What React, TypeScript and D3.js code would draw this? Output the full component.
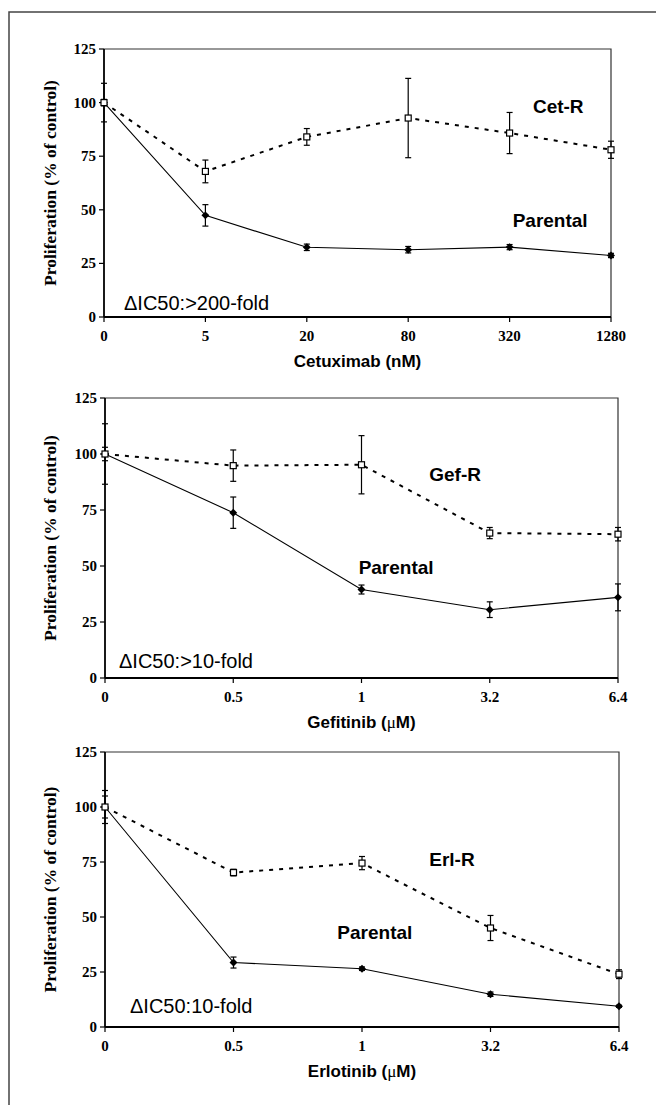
import React from 'react';
import * as d3 from 'd3';

// panel 1: cetuximab
const cetDoses = ['0', '5', '20', '80', '320', '1280'];
const cetR = [100, 67.9, 84, 92.8, 85.8, 78];
const cetRErr = [9, 5.3, 3.9, 18.5, 9.6, 4];
const cetPar = [100, 47.4, 32.5, 31.4, 32.6, 28.7];
const cetParErr = [1.5, 5, 1.5, 1.5, 1.2, 1];

// panel 2: gefitinib
const gefDoses = ['0', '0.5', '1', '3.2', '6.4'];
const gefR = [100, 94.8, 95.2, 64.7, 64.2];
const gefRErr = [13.5, 7, 13, 2.5, 3];
const gefPar = [100, 73.8, 39.5, 30.5, 36];
const gefParErr = [3, 7, 2, 3.5, 6];

// panel 3: erlotinib
const erlDoses = ['0', '0.5', '1', '3.2', '6.4'];
const erlR = [100, 70.2, 74.5, 45, 24];
const erlRErr = [7.5, 1.5, 3, 5.7, 2];
const erlPar = [100, 29.3, 26.5, 14.9, 9.4];
const erlParErr = [5, 2.5, 0.8, 1, 0.5];

const yTicks = [0, 25, 50, 75, 100, 125];

const serif = '"Liberation Serif", "Times New Roman", serif';
const sans = '"Liberation Sans", Arial, sans-serif';

type PanelProps = {
  left: number; right: number; top: number; bottom: number;
  doses: string[];
  res: number[]; resErr: number[];
  par: number[]; parErr: number[];
  xTitle: React.ReactNode;
  resName: string;
  resLabel: [number, number];
  parLabel: [number, number];
  foldText: string;
  foldX: number;
  foldY: number;
};

const Panel = (p: PanelProps) => {
  const x = d3.scalePoint<number>().domain(d3.range(p.doses.length)).range([p.left, p.right]);
  const xi = d3.scaleLinear().domain([0, p.doses.length - 1]).range([p.left, p.right]);
  const y = d3.scaleLinear().domain([0, 125]).range([p.bottom, p.top]);

  const line = d3.line<number>().x((d, i) => x(i) as number).y((d) => y(d));

  const errBars = (vals: number[], errs: number[], key: string) =>
    vals.map((v, i) => {
      const cx = x(i) as number;
      return (
        <g key={key + i} stroke="#000" strokeWidth={1.2}>
          <line x1={cx} x2={cx} y1={y(v + errs[i])} y2={y(v - errs[i])} />
          <line x1={cx - 3} x2={cx + 3} y1={y(v + errs[i])} y2={y(v + errs[i])} />
          <line x1={cx - 3} x2={cx + 3} y1={y(v - errs[i])} y2={y(v - errs[i])} />
        </g>
      );
    });

  return (
    <g>
      {/* frame top/right */}
      <path d={`M${p.left},${p.top}H${p.right}V${p.bottom}`} fill="none" stroke="#333" strokeWidth={1.2} />

      {/* y axis */}
      <line x1={p.left} x2={p.left} y1={p.top} y2={p.bottom} stroke="#000" strokeWidth={1.8} />
      {yTicks.map((t) => (
        <g key={'y' + t}>
          <line x1={p.left - 5} x2={p.left} y1={y(t)} y2={y(t)} stroke="#000" strokeWidth={1.2} />
          <text x={p.left - 8} y={y(t) + 5} textAnchor="end" fontFamily={serif} fontWeight="bold" fontSize={15}>{t}</text>
        </g>
      ))}

      {/* x axis */}
      <line x1={p.left} x2={p.right} y1={p.bottom} y2={p.bottom} stroke="#000" strokeWidth={2} />
      {p.doses.map((d, i) => (
        <g key={'x' + d}>
          <line x1={x(i)} x2={x(i)} y1={p.bottom} y2={p.bottom + 5} stroke="#000" strokeWidth={1.2} />
          <text x={x(i)} y={p.bottom + 24} textAnchor="middle" fontFamily={serif} fontWeight="bold" fontSize={15}>{d}</text>
        </g>
      ))}

      <text
        transform={`translate(52,${(p.top + p.bottom) / 2}) rotate(-90)`}
        textAnchor="middle"
        dominantBaseline="middle"
        fontFamily={serif}
        fontWeight="bold"
        fontSize={17.5}
      >
        Proliferation (% of control)
      </text>
      <text x={(p.left + p.right) / 2} y={p.bottom + 50} textAnchor="middle" fontFamily={sans} fontWeight="bold" fontSize={17}>
        {p.xTitle}
      </text>

      {/* lines */}
      <path d={line(p.res) ?? ''} fill="none" stroke="#000" strokeWidth={2} strokeDasharray="4 6" />
      <path d={line(p.par) ?? ''} fill="none" stroke="#000" strokeWidth={1.1} />

      {errBars(p.res, p.resErr, 'r')}
      {errBars(p.par, p.parErr, 'p')}

      {p.par.map((v, i) => (
        <path
          key={'d' + i}
          d={d3.symbol(d3.symbolDiamond2, 40)() ?? ''}
          transform={`translate(${x(i)},${y(v)})`}
          fill="#000"
        />
      ))}
      {p.res.map((v, i) => (
        <rect key={'s' + i} x={(x(i) as number) - 3} y={y(v) - 3} width={6} height={6} fill="#fff" stroke="#000" strokeWidth={1.2} />
      ))}

      <text x={xi(p.resLabel[0])} y={y(p.resLabel[1])} textAnchor="middle" fontFamily={sans} fontWeight="bold" fontSize={19}>{p.resName}</text>
      <text x={xi(p.parLabel[0])} y={y(p.parLabel[1])} textAnchor="middle" fontFamily={sans} fontWeight="bold" fontSize={19}>Parental</text>
      <text x={p.foldX} y={p.foldY} fontFamily={sans} fontSize={20}>{p.foldText}</text>
    </g>
  );
};

const mu = <tspan fontFamily={serif} fontWeight="normal">μ</tspan>;

export default function App() {
  return (
    <div style={{ position: 'absolute', left: 0, top: 0, background: '#fff' }}>
      <svg width={656} height={1105} style={{ display: 'block' }}>
        <rect x={0} y={0} width={656} height={1105} fill="#fff" />
        <path d="M9,1105V12H656" fill="none" stroke="#444" strokeWidth={1.5} />

        <Panel
          left={104} right={611} top={49} bottom={317}
          doses={cetDoses} res={cetR} resErr={cetRErr} par={cetPar} parErr={cetParErr}
          xTitle="Cetuximab (nM)"
          resName="Cet-R" resLabel={[4.48, 95]} parLabel={[4.4, 42]}
          foldText="ΔIC50:>200-fold" foldX={124} foldY={310}
        />
        <Panel
          left={105} right={618} top={398} bottom={678}
          doses={gefDoses} res={gefR} resErr={gefRErr} par={gefPar} parErr={gefParErr}
          xTitle={<>Gefitinib ({mu}M)</>}
          resName="Gef-R" resLabel={[2.73, 88]} parLabel={[2.27, 46.4]}
          foldText="ΔIC50:>10-fold" foldX={119} foldY={668}
        />
        <Panel
          left={105} right={619} top={752} bottom={1027}
          doses={erlDoses} res={erlR} resErr={erlRErr} par={erlPar} parErr={erlParErr}
          xTitle={<>Erlotinib ({mu}M)</>}
          resName="Erl-R" resLabel={[2.7, 73]} parLabel={[2.1, 40]}
          foldText="ΔIC50:10-fold" foldX={130} foldY={1013}
        />
      </svg>
    </div>
  );
}
